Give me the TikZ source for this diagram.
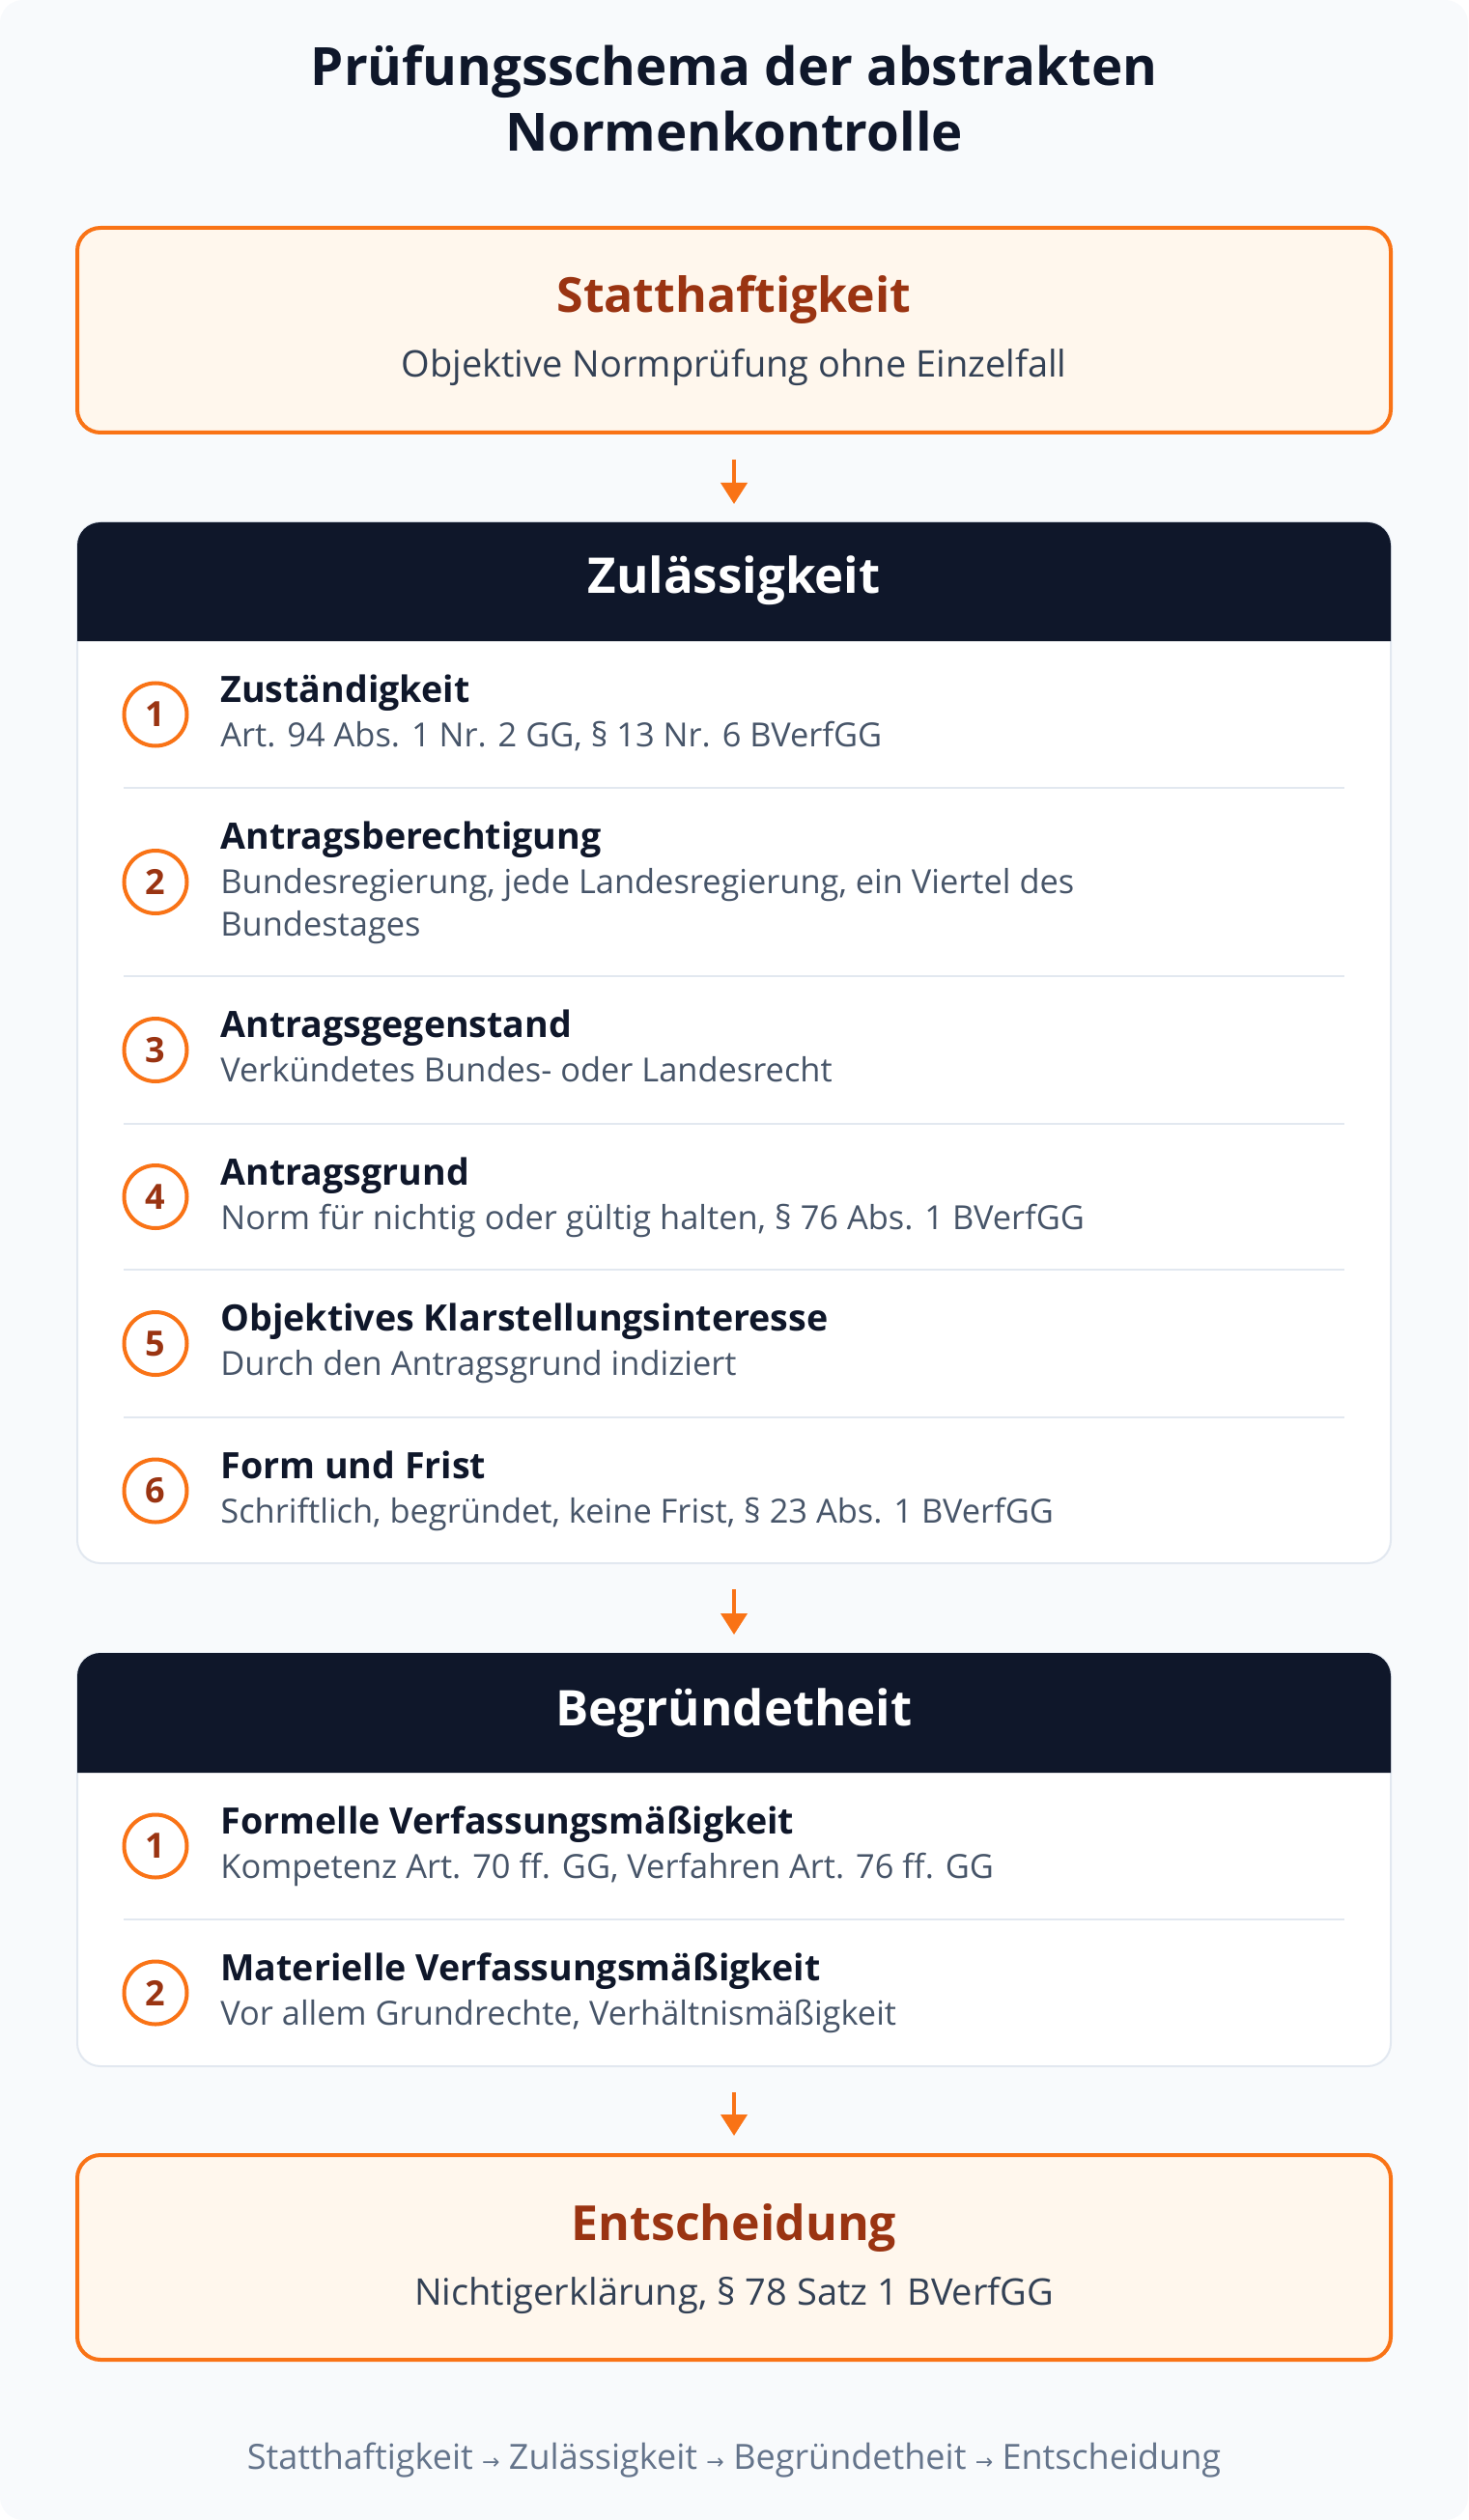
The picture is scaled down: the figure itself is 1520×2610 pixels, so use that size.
\documentclass[tikz,border=0pt]{standalone}
\usepackage{fontspec}
\setmainfont{Open Sans}
\newfontfamily\arrowfont{DejaVu Sans}
\usetikzlibrary{arrows.meta,positioning}

\definecolor{pagebg}{HTML}{F8FAFC}
\definecolor{accent}{HTML}{F97316}
\definecolor{cream}{HTML}{FFF7ED}
\definecolor{rust}{HTML}{9A3412}
\definecolor{navy}{HTML}{0F172A}
\definecolor{slatedark}{HTML}{334155}
\definecolor{slatemid}{HTML}{475569}
\definecolor{slatelight}{HTML}{64748B}
\definecolor{rule}{HTML}{E2E8F0}

\begin{document}
\begin{tikzpicture}[x=0.5pt,y=-0.5pt,
	box/.style={draw=accent, line width=2pt, fill=cream, rounded corners=12pt,
		minimum width=680pt, minimum height=106pt, inner sep=0pt},
	card/.style={draw=rule, line width=1pt, fill=white, rounded corners=12pt,
		minimum width=680pt, inner sep=0pt},
	boxhead/.style={anchor=base, text=rust, font=\bfseries\fontsize{25}{30}\selectfont},
	boxsub/.style={anchor=base, text=slatedark, font=\fontsize{19}{23}\selectfont},
	cardhead/.style={anchor=base, text=white, font=\bfseries\fontsize{25.5}{30}\selectfont},
	num/.style={circle, draw=accent, line width=2pt, fill=white, minimum size=32.5pt,
		inner sep=0pt, text=rust, font=\bfseries\fontsize{18}{20}\selectfont},
	itemhead/.style={anchor=base west, inner sep=0pt, text=navy,
		font=\bfseries\fontsize{18.8}{22}\selectfont},
	itemdesc/.style={anchor=base west, inner sep=0pt, align=left, text=slatemid,
		font=\fontsize{17.2}{22}\selectfont},
	flow/.style={draw=accent, line width=2pt, -{Triangle[width=13.5pt,length=11pt]},
		shorten <=13pt, shorten >=9pt}
	]
	% Page
	\useasboundingbox (0,0) rectangle (1520,2610);
	\fill[white] (0,0) rectangle (1520,2610);
	\fill[pagebg, rounded corners=12pt] (0,0) rectangle (1520,2610);
	
	% Title (base = last line)
	\node[anchor=base, text=navy, align=center, font=\bfseries\fontsize{27.3}{34}\selectfont]
		(title) at (760,157) {Prüfungsschema der abstrakten\\Normenkontrolle};
	
	% Statthaftigkeit
	\node[box] (stat) at (760,342) {};
	\node[boxhead] (statHead) at (760,324) {Statthaftigkeit};
	\node[boxsub] (statSub) at (760,391) {Objektive Normprüfung ohne Einzelfall};
	
	% Zulaessigkeit card
	\node[card, minimum height=539pt] (zul) at (760,1080) {};
	\fill[navy] (80,664) [rounded corners=12pt] -- (80,541) -- (1440,541) [sharp corners] -- (1440,664) -- cycle;
	\node[cardhead] (zulHead) at (760,615) {Zulässigkeit};
	
	% \lines: desc lines, base of the node sits on the last one
	\foreach \n/\top/\bot/\lines/\head/\desc in {
		1/664/816/1/Zuständigkeit/{Art. 94 Abs. 1 Nr. 2 GG, § 13 Nr. 6 BVerfGG},
		2/816/1011/2/Antragsberechtigung/{Bundesregierung, jede Landesregierung, ein Viertel des\\Bundestages},
		3/1011/1164/1/Antragsgegenstand/{Verkündetes Bundes- oder Landesrecht},
		4/1164/1315/1/Antragsgrund/{Norm für nichtig oder gültig halten, § 76 Abs. 1 BVerfGG},
		5/1315/1468/1/Objektives Klarstellungsinteresse/{Durch den Antragsgrund indiziert},
		6/1468/1620/1/Form und Frist/{Schriftlich, begründet, keine Frist, § 23 Abs. 1 BVerfGG}}
	{
		\node[num] (z\n) at (161,{(\top+\bot)/2}) {\n};
		\node[itemhead] (zh\n) at (228,\top+63) {\head};
		\node[itemdesc] (zd\n) at (228,{\top+109+44*(\lines-1)}) {\desc};
		\ifnum\n<6 \draw[rule, line width=1pt] (128,\bot) -- (1392,\bot); \fi
	}
	
	% Begruendetheit card
	\node[card, minimum height=214pt] (beg) at (760,1926) {};
	\fill[navy] (80,1836) [rounded corners=12pt] -- (80,1712) -- (1440,1712) [sharp corners] -- (1440,1836) -- cycle;
	\node[cardhead] (begHead) at (760,1787) {Begründetheit};
	
	\foreach \n/\top/\bot/\head/\desc in {
		1/1836/1988/Formelle Verfassungsmäßigkeit/{Kompetenz Art. 70 ff. GG, Verfahren Art. 76 ff. GG},
		2/1988/2140/Materielle Verfassungsmäßigkeit/{Vor allem Grundrechte, Verhältnismäßigkeit}}
	{
		\node[num] (b\n) at (161,{(\top+\bot)/2}) {\n};
		\node[itemhead] (bh\n) at (228,\top+63) {\head};
		\node[itemdesc] (bd\n) at (228,\top+109) {\desc};
		\ifnum\n<2 \draw[rule, line width=1pt] (128,\bot) -- (1392,\bot); \fi
	}
	
	% Entscheidung
	\node[box] (ent) at (760,2338) {};
	\node[boxhead] (entHead) at (760,2320) {Entscheidung};
	\node[boxsub] (entSub) at (760,2387) {Nichtigerklärung, § 78 Satz 1 BVerfGG};
	
	% Arrows between the stages
	\draw[flow] (stat) -- (zul);
	\draw[flow] (zul) -- (beg);
	\draw[flow] (beg) -- (ent);
	
	% Footer
	\node[anchor=base, text=slatelight, font=\fontsize{18}{22}\selectfont] (footer) at (760,2557)
		{Statthaftigkeit {\arrowfont\fontsize{11}{11}\selectfont →} Zulässigkeit {\arrowfont\fontsize{11}{11}\selectfont →} Begründetheit {\arrowfont\fontsize{11}{11}\selectfont →} Entscheidung};
\end{tikzpicture}
\end{document}
